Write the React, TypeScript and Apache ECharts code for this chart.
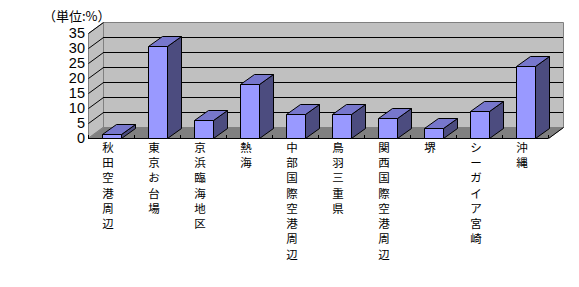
import React, { useEffect, useRef } from "react";
import * as echarts from "echarts";

const categories = [
  "秋田空港周辺",
  "東京お台場",
  "京浜臨海地区",
  "熱海",
  "中部国際空港周辺",
  "鳥羽三重県",
  "関西国際空港周辺",
  "堺",
  "シーガイア宮崎",
  "沖縄",
];
const values = [1.3, 30.6, 6.0, 17.9, 7.9, 7.9, 6.6, 3.2, 9.0, 24.1];
const yTicks = [0, 5, 10, 15, 20, 25, 30, 35];
const unitLabel = "（単位:%）";

const WALL_DX = 15;
const WALL_DY = -11;
const BAR_DX = 14;
const BAR_DY = -10;

export default function App() {
  const ref = useRef<HTMLDivElement>(null);
  useEffect(() => {
    if (!ref.current) return;
    const chart = echarts.init(ref.current, null, { renderer: "svg" });
    const lineStyle = { stroke: "#000", lineWidth: 1 };
    const option: any = {
      animation: false,
      backgroundColor: "#fff",
      title: {
        text: unitLabel,
        left: 43,
        top: 7,
        padding: 0,
        textStyle: {
          fontSize: 13,
          lineHeight: 16,
          fontWeight: "normal",
          color: "#000",
          fontFamily: "Noto Sans CJK JP",
        },
      },
      grid: { left: 88, top: 33, width: 460, height: 105 },
      xAxis: {
        type: "category",
        data: categories,
        axisLine: { show: false },
        axisTick: { show: false },
        splitLine: { show: false },
        axisLabel: {
          interval: 0,
          margin: 1,
          fontSize: 11.5,
          lineHeight: 15.3,
          padding: [0, 6, 0, 0],
          color: "#000",
          fontFamily: "Noto Sans CJK JP",
          formatter: (v: string) => v.split("").join("\n"),
        },
      },
      yAxis: {
        type: "value",
        min: 0,
        max: 35,
        interval: 5,
        axisLine: { show: false },
        axisTick: { show: false },
        splitLine: { show: false },
        axisLabel: {
          margin: 3,
          fontSize: 14.5,
          lineHeight: 14,
          color: "#000",
          fontFamily: "Liberation Sans",
        },
      },
      series: [
        {
          type: "custom",
          z: 1,
          clip: false,
          silent: true,
          data: [[0, 0]],
          renderItem: (params: any, api: any) => {
            const cs = params.coordSys;
            const x0 = Math.round(cs.x);
            const y0 = Math.round(cs.y);
            const w = Math.round(cs.width);
            const h = Math.round(cs.height);
            const yb = y0 + h;
            const children: any[] = [];
            children.push({
              type: "polygon",
              shape: {
                points: [
                  [x0 + 0.5, yb],
                  [x0 + 0.5, y0 + 0.5],
                  [x0 + WALL_DX + 0.5, y0 + WALL_DY + 0.5],
                  [x0 + WALL_DX + 0.5, yb + WALL_DY],
                ],
              },
              style: { fill: "#C0C0C0", stroke: "#808080", lineWidth: 1 },
            });
            children.push({
              type: "rect",
              shape: {
                x: x0 + WALL_DX + 0.5,
                y: y0 + WALL_DY + 0.5,
                width: w,
                height: h,
              },
              style: { fill: "#C0C0C0", stroke: "#808080", lineWidth: 1 },
            });
            yTicks.forEach((t) => {
              const y = Math.round(api.coord([0, t])[1]);
              if (t > 0 && t < 35) {
                children.push({
                  type: "line",
                  shape: {
                    x1: x0 + WALL_DX,
                    y1: y + WALL_DY + 0.5,
                    x2: x0 + WALL_DX + w,
                    y2: y + WALL_DY + 0.5,
                  },
                  style: lineStyle,
                });
              }
              if (t > 0) {
                children.push({
                  type: "line",
                  shape: {
                    x1: x0 + 0.5,
                    y1: y + 0.5,
                    x2: x0 + WALL_DX + 0.5,
                    y2: y + WALL_DY + 0.5,
                  },
                  style: lineStyle,
                });
              }
            });
            children.push({
              type: "polygon",
              shape: {
                points: [
                  [x0 + 0.5, yb + 0.5],
                  [x0 + w + 0.5, yb + 0.5],
                  [x0 + w + WALL_DX + 0.5, yb + WALL_DY + 0.5],
                  [x0 + WALL_DX + 0.5, yb + WALL_DY + 0.5],
                ],
              },
              style: { fill: "#808080", stroke: "#808080", lineWidth: 1 },
            });
            children.push({
              type: "line",
              shape: { x1: x0, y1: yb + 0.5, x2: x0 + w, y2: yb + 0.5 },
              style: lineStyle,
            });
            children.push({
              type: "line",
              shape: {
                x1: x0 + w + 0.5,
                y1: yb + 0.5,
                x2: x0 + w + WALL_DX + 0.5,
                y2: yb + WALL_DY + 0.5,
              },
              style: lineStyle,
            });
            const band = api.size([1, 0])[0];
            for (let i = 0; i <= categories.length; i++) {
              const x = Math.round(x0 + band * i) + 0.5;
              children.push({
                type: "line",
                shape: { x1: x, y1: yb, x2: x, y2: yb - 3 },
                style: lineStyle,
              });
            }
            return { type: "group", children };
          },
        },
        {
          type: "custom",
          z: 2,
          clip: false,
          data: values.map((v, i) => [i, v]),
          renderItem: (params: any, api: any) => {
            const idx = api.value(0);
            const val = api.value(1);
            const top = api.coord([idx, val]);
            const base = api.coord([idx, 0]);
            const band = api.size([1, 0])[0];
            const bw = Math.round(band * 0.41);
            const xl = Math.round(top[0] - bw / 2) + 0.5;
            const xr = xl + bw;
            const yt = Math.round(top[1]) + 0.5;
            const yb = Math.round(base[1]) + 0.5;
            const stroke = { stroke: "#000", lineWidth: 1 };
            return {
              type: "group",
              children: [
                {
                  type: "polygon",
                  shape: {
                    points: [
                      [xr, yt],
                      [xr + BAR_DX, yt + BAR_DY],
                      [xr + BAR_DX, yb + BAR_DY],
                      [xr, yb],
                    ],
                  },
                  style: { fill: "#4C4C7F", ...stroke },
                },
                {
                  type: "polygon",
                  shape: {
                    points: [
                      [xl, yt],
                      [xr, yt],
                      [xr + BAR_DX, yt + BAR_DY],
                      [xl + BAR_DX, yt + BAR_DY],
                    ],
                  },
                  style: { fill: "#7777CC", ...stroke },
                },
                {
                  type: "rect",
                  shape: { x: xl, y: yt, width: bw, height: yb - yt },
                  style: { fill: "#9999FF", ...stroke },
                },
              ],
            };
          },
        },
      ],
    };
    chart.setOption(option);
    return () => chart.dispose();
  }, []);
  return (
    <div
      ref={ref}
      style={{ position: "fixed", left: 0, top: 0, width: 579, height: 287 }}
    />
  );
}
